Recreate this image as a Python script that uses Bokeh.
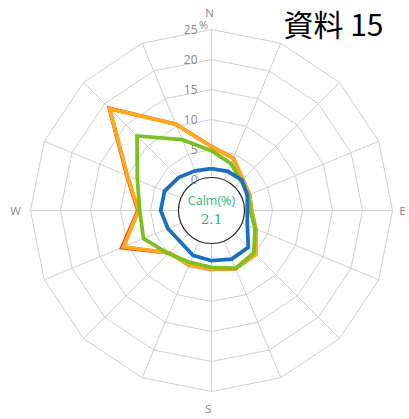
import numpy as np
from bokeh.plotting import figure
from bokeh.models import Range1d
from bokeh.core.properties import value
from bokeh.embed import file_html
from bokeh.resources import INLINE

directions = ["N", "NNE", "NE", "ENE", "E", "ESE", "SE", "SSE",
              "S", "SSW", "SW", "WSW", "W", "WNW", "NW", "NNW"]
ring_values = [0, 5, 10, 15, 20, 25]
ring_labels = ["0", "5", "10", "15", "20", "25"]
compass_labels = ["N", "E", "S", "W"]

red = [5.5, 4.3, 2.2, 1.7, 1.5, 2.8, 5.2, 5.3, 4.6, 4.6, 4.8, 11.0, 7.1, 10.1, 18.9, 10.4]
orange = [5.5, 4.3, 2.2, 1.7, 1.5, 2.8, 5.2, 5.3, 4.6, 4.6, 4.8, 10.7, 7.0, 10.0, 18.8, 10.4]
green = [4.8, 3.3, 1.8, 1.5, 1.3, 2.7, 4.8, 5.3, 4.3, 4.2, 5.0, 7.1, 6.8, 8.2, 12.4, 7.6]
blue = [1.8, 1.9, 2.0, 1.3, 0.8, 1.3, 3.5, 3.6, 3.2, 2.9, 2.2, 2.7, 3.3, 3.3, 2.6, 2.0]
calm = 2.1

S = 6.0           # px per percent
HOLE = 31.0 / S   # radius of the "0" ring in data units
W, H = 409, 419
CX, CY = 211, 210  # centre in plot px (from left / from top)

n = len(directions)
theta = np.deg2rad(np.arange(n) * 360.0 / n)

def xy(vals):
    r = HOLE + np.asarray(vals, dtype=float)
    x = r * np.sin(theta)
    y = r * np.cos(theta)
    return list(np.append(x, x[0])), list(np.append(y, y[0]))

p = figure(width=W, height=H, output_backend="svg", toolbar_location=None,
           x_axis_type=None, y_axis_type=None, min_border=0,
           x_range=Range1d(-CX / S, (W - CX) / S),
           y_range=Range1d(-(H - CY) / S, CY / S))
p.outline_line_color = None
p.xgrid.visible = False
p.ygrid.visible = False
p.background_fill_color = "white"
p.border_fill_color = "white"

grid_col = "#cfcfcf"
for rv in ring_values:
    gx, gy = xy([rv] * n)
    p.line(gx, gy, line_color=grid_col, line_width=1)
rmax = HOLE + max(ring_values)
xs = [[HOLE * np.sin(t), rmax * np.sin(t)] for t in theta]
ys = [[HOLE * np.cos(t), rmax * np.cos(t)] for t in theta]
p.multi_line(xs, ys, line_color=grid_col, line_width=1)

for vals, col in [(red, "#f03a17"), (orange, "#fdaa1c"), (green, "#7cc11f"), (blue, "#1a6fc0")]:
    sx, sy = xy(vals)
    p.line(sx, sy, line_color=col, line_width=3.8, line_join="miter")

p.circle([0], [0], radius=33.0 / S, fill_color="white", line_color="#222222", line_width=1.2)
p.text([0], [1.6], text=["Calm(%)"], text_align="center", text_baseline="middle",
       text_font=value("Open Sans"), text_font_size="12.5px", text_color="#34b27a")
p.text([0], [-1.4], text=[f"{calm}"], text_align="center", text_baseline="middle",
       text_font=value("DejaVu Serif"), text_font_size="13.5px", text_color="#34b27a")

rl_y = [HOLE + rv for rv in ring_values]
p.text([-14.0 / S] * len(rl_y), rl_y, text=ring_labels, text_align="right",
       text_baseline="middle", text_font=value("Open Sans"), text_font_size="12px",
       text_color="#8a8a8a")
p.text([-8.0 / S], [HOLE + 25 + 5.0 / S], text=["%"], text_align="center",
       text_baseline="middle", text_font=value("Open Sans"), text_font_size="11px",
       text_color="#8a8a8a")

cx = [-2.0 / S, 191.0 / S, -3.0 / S, -196.0 / S]
cy = [198.0 / S, 0, -198.0 / S, 0]
p.text(cx, cy, text=compass_labels, text_align="center", text_baseline="middle",
       text_font=value("Open Sans"), text_font_size="11.5px", text_color="#8a8a8a")

p.text([(383 - CX) / S], [(CY - 0.5) / S], text=["資料 15"], text_align="right",
       text_baseline="top", text_font=value("Noto Sans CJK JP"),
       text_font_size="30px", text_color="black")

open("out.html", "w").write(file_html(p, INLINE))
